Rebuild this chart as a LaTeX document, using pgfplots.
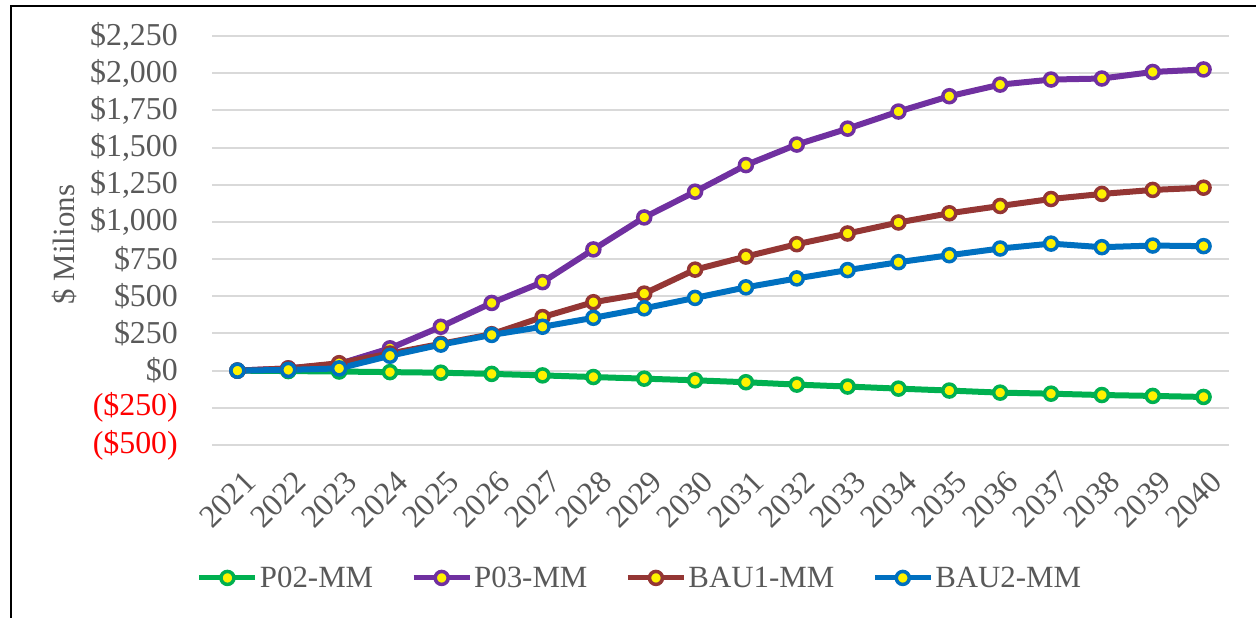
\documentclass[border=0pt]{standalone}
\usepackage{pgfplots}
\pgfplotsset{compat=1.18}
\usepackage{fontspec}
\setmainfont{Liberation Serif}

\definecolor{cgreen}{HTML}{00B050}
\definecolor{cpurple}{HTML}{7030A0}
\definecolor{cbrown}{HTML}{943634}
\definecolor{cblue}{HTML}{0070C0}
\definecolor{txtgray}{HTML}{595959}
\definecolor{gridgray}{HTML}{D9D9D9}

\pgfplotsset{
  ser/.style={#1, line width=6bp, mark=*, mark size=6.5bp,
    mark options={fill=yellow, draw=#1, line width=3.5bp}},
}

\begin{document}
\begin{tikzpicture}
\path[use as bounding box] (0,0) rectangle (1256bp,618bp);
\draw[black, line width=2bp] (11bp,0) -- (11bp,612bp) -- (1257bp,612bp);
\begin{axis}[
  at={(212bp,173bp)}, anchor=south west,
  scale only axis, width=1017bp, height=409bp,
  xmin=2020.5, xmax=2040.5, ymin=-500, ymax=2250,
  axis line style={draw=none},
  major tick length=0pt,
  ymajorgrids, grid style={gridgray, line width=2bp},
  xtick={2021,...,2040},
  xticklabels={2021,2022,2023,2024,2025,2026,2027,2028,2029,2030,2031,2032,2033,2034,2035,2036,2037,2038,2039,2040},
  ytick={-500,-250,...,2250},
  yticklabels={\textcolor{red}{(\$500)},\textcolor{red}{(\$250)},\$0,\$250,\$500,\$750,{\$1,000},{\$1,250},{\$1,500},{\$1,750},{\$2,000},{\$2,250}},
  tick label style={font=\fontsize{32}{34}\selectfont, text=txtgray},
  xticklabel style={xshift=5bp, yshift=-24bp, rotate=45, anchor=north east, inner sep=0pt},
  yticklabel style={anchor=east, inner sep=0pt, xshift=-34bp},
  ylabel={\$ Milions},
  ylabel style={at={(axis description cs:-0.145,0.49)}, anchor=center,
    font=\fontsize{31}{33}\selectfont, text=txtgray},
  legend columns=4,
  legend style={at={(axis description cs:-0.015,-0.325)}, anchor=west, draw=none,
    fill=none, font=\fontsize{31}{33}\selectfont, text=txtgray,
    /tikz/every even column/.append style={column sep=36bp},
    inner sep=0pt},
  legend image code/.code={
    \draw[mark repeat=2, mark phase=2, #1, line width=5bp]
      plot coordinates {(0bp,0bp) (28bp,0bp) (56bp,0bp)};
  },
  clip=false,
]
\addplot[ser=cgreen] coordinates {
(2021,0) (2022,-3) (2023,-6) (2024,-10) (2025,-14) (2026,-22) (2027,-32)
(2028,-43) (2029,-54) (2030,-65) (2031,-78) (2032,-94) (2033,-107)
(2034,-121) (2035,-134) (2036,-148) (2037,-155) (2038,-164) (2039,-170) (2040,-177)};
\addlegendentry{P02-MM}
\addplot[ser=cpurple] coordinates {
(2021,0) (2022,15) (2023,45) (2024,150) (2025,295) (2026,455) (2027,595)
(2028,815) (2029,1030) (2030,1203) (2031,1382) (2032,1520) (2033,1627)
(2034,1742) (2035,1845) (2036,1923) (2037,1957) (2038,1964) (2039,2008) (2040,2025)};
\addlegendentry{P03-MM}
\addplot[ser=cbrown] coordinates {
(2021,0) (2022,15) (2023,50) (2024,115) (2025,180) (2026,245) (2027,360)
(2028,460) (2029,518) (2030,679) (2031,767) (2032,850) (2033,922)
(2034,996) (2035,1058) (2036,1107) (2037,1154) (2038,1188) (2039,1215) (2040,1230)};
\addlegendentry{BAU1-MM}
\addplot[ser=cblue] coordinates {
(2021,0) (2022,5) (2023,15) (2024,100) (2025,175) (2026,240) (2027,295)
(2028,355) (2029,419) (2030,489) (2031,560) (2032,620) (2033,676)
(2034,729) (2035,776) (2036,821) (2037,854) (2038,830) (2039,841) (2040,837)};
\addlegendentry{BAU2-MM}
\end{axis}
\end{tikzpicture}
\end{document}
